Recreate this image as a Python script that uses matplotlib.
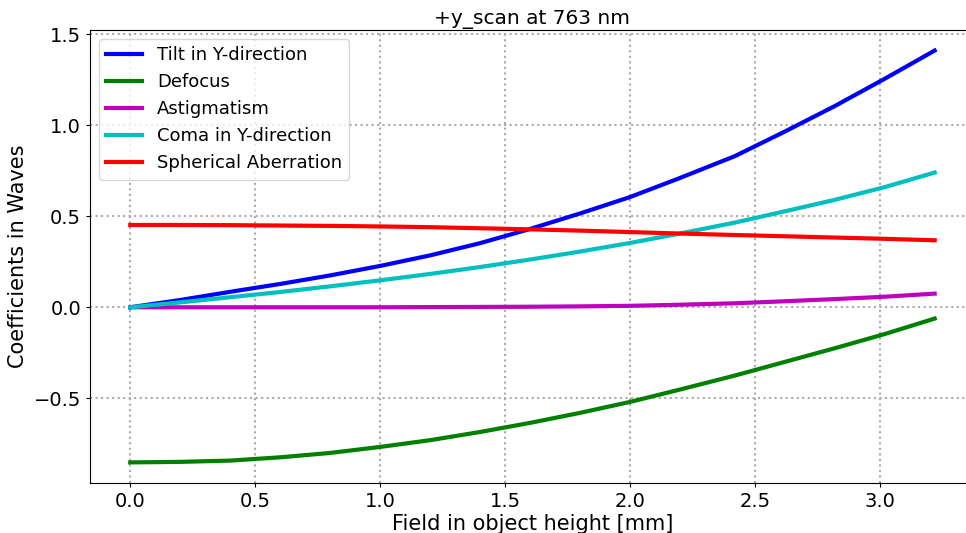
import matplotlib
matplotlib.use("Agg")
import matplotlib.pyplot as plt

# Zernike-type coefficients vs. field height for the +y scan
field_mm = [0.0, 0.2, 0.4, 0.6, 0.8, 1.0, 1.2, 1.4, 1.6, 1.8, 2.0, 2.2,
            2.42, 2.62, 2.82, 3.02, 3.22]

tilt_y = [0.0, 0.04, 0.085, 0.128, 0.175, 0.227, 0.285, 0.352, 0.43, 0.515,
          0.605, 0.71, 0.83, 0.965, 1.105, 1.255, 1.41]
defocus = [-0.852, -0.849, -0.842, -0.824, -0.80, -0.767, -0.73, -0.685, -0.635,
           -0.58, -0.52, -0.452, -0.375, -0.30, -0.225, -0.147, -0.062]
astigmatism = [0.0, 0.0, 0.0, 0.0, 0.0, 0.0, 0.001, 0.002, 0.003, 0.005,
               0.008, 0.014, 0.022, 0.033, 0.045, 0.058, 0.075]
coma_y = [0.0, 0.027, 0.055, 0.084, 0.115, 0.148, 0.183, 0.221, 0.262, 0.306,
          0.353, 0.405, 0.465, 0.527, 0.59, 0.66, 0.74]
spherical = [0.452, 0.452, 0.451, 0.449, 0.447, 0.444, 0.44, 0.434, 0.428, 0.421,
             0.413, 0.405, 0.397, 0.39, 0.383, 0.376, 0.368]

series = [
    ("Tilt in Y-direction", tilt_y, "b"),
    ("Defocus", defocus, "g"),
    ("Astigmatism", astigmatism, "m"),
    ("Coma in Y-direction", coma_y, "c"),
    ("Spherical Aberration", spherical, "r"),
]

fig = plt.figure(figsize=(9.66, 5.33), dpi=100)
# the axes run slightly past the right edge of the canvas
ax = fig.add_axes([0.0932, 0.0938, 0.916, 0.850])

for label, values, color in series:
    ax.plot(field_mm, values, color=color, linewidth=3, label=label)

ax.spines["right"].set_visible(False)
ax.grid(True, linestyle=":", linewidth=1.5, color="#aaaaaa")
ax.tick_params(labelsize=14, length=3)
ax.set_xlabel("Field in object height [mm]", fontsize=15, labelpad=2)
ax.set_ylabel("Coefficients in Waves", fontsize=15)
ax.set_title("+y_scan at 763 nm", fontsize=14.5, pad=4)
ax.legend(loc="upper left", fontsize=13)

fig.savefig("out.png", dpi=100)
